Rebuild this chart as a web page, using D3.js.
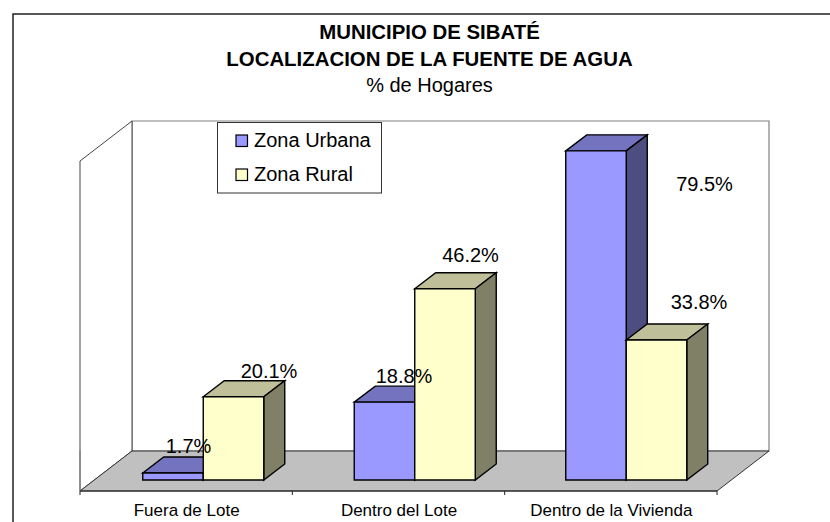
<!DOCTYPE html>
<html><head><meta charset="utf-8">
<style>html,body{margin:0;padding:0;background:#fff;overflow:hidden}svg{display:block}text{font-family:"Liberation Sans",Arial,sans-serif;fill:#000}</style>
<script src="https://cdn.jsdelivr.net/npm/d3@7/dist/d3.min.js"></script>
</head><body><svg id="c" width="830" height="522"></svg>
<script>
const categories = ["Fuera de Lote","Dentro del Lote","Dentro de la Vivienda"];
const seriesNames = ["Zona Urbana","Zona Rural"];
const urbana = [1.7,18.8,79.5];
const rural = [20.1,46.2,33.8];
const titleLines = ["MUNICIPIO DE SIBATÉ","LOCALIZACION DE LA FUENTE DE AGUA"];
const subtitle = "% de Hogares";
const faceColors = ["#9999ff","#ffffcc"];
const topColors = ["#7373bf","#bfbf99"];
const sideColors = ["#4d4d80","#808066"];
const labelOffsets = [[[5,-20],[25,-19]],[[9,-19],[15,-27]],[[98,40],[32,-31]]];

const svg = d3.select("#c");
const X0=80,X1=717,FY=491,DX=52,DY=40,WALLTOP=121,BASE=480,BW=60.5,BDX=21,BDY=16;
const x = d3.scaleBand().domain(categories).range([X0,X1]);
const xBars = d3.scaleBand().domain(categories).range([X0,714.5]);
const y = d3.scaleLinear().domain([0,100]).range([BASE,BASE-414]);
const line = d3.line();
const poly=(pts,fill,stroke,w)=>svg.append("path").attr("d",line(pts)+"Z").attr("fill",fill).attr("stroke",stroke).attr("stroke-width",w).attr("stroke-linejoin","miter");

svg.append("rect").attr("x",13).attr("y",14).attr("width",840).attr("height",540).attr("fill","#fff").attr("stroke","#222").attr("stroke-width",1.5);

// walls and floor
poly([[X0+DX,FY-DY],[X0+DX,WALLTOP],[X1+DX,WALLTOP],[X1+DX,FY-DY]],"#fff","#808080",1.2);
poly([[X0,FY],[X0,WALLTOP+DY],[X0+DX,WALLTOP],[X0+DX,FY-DY]],"#fff","#444",1);
poly([[X0,FY],[X0+DX,FY-DY],[X1+DX,FY-DY],[X1,FY]],"#c0c0c0","#333",1);
svg.append("line").attr("x1",X0).attr("x2",X0).attr("y1",FY-DY).attr("y2",FY).attr("stroke","#808080").attr("stroke-width",1.2);
svg.append("line").attr("x1",X0).attr("x2",X1).attr("y1",FY).attr("y2",FY).attr("stroke","#222").attr("stroke-width",1.2);
x.domain().concat(null).forEach(c=>{
  const p = c===null ? X1 : x(c);
  svg.append("line").attr("x1",p).attr("x2",p).attr("y1",FY).attr("y2",FY+4).attr("stroke","#222");
});
categories.forEach(c=>svg.append("text").attr("x",x(c)+x.bandwidth()/2+0.5).attr("y",FY+25).attr("text-anchor","middle").attr("font-size",17).text(c));

// bars
const series=[urbana,rural];
const groupCentre=c=>xBars(c)+xBars.bandwidth()/2+17.5;
categories.forEach((c,i)=>{
  const cx=groupCentre(c);
  series.forEach((s,k)=>{
    const l=cx+(k-1)*BW, r=l+BW, t=y(s[i]), b=y(0);
    poly([[l,t],[l+BDX,t-BDY],[r+BDX,t-BDY],[r,t]],topColors[k],"#000",1.4);
    poly([[r,t],[r+BDX,t-BDY],[r+BDX,b-BDY],[r,b]],sideColors[k],"#000",1.4);
    poly([[l,t],[r,t],[r,b],[l,b]],faceColors[k],"#000",1.4);
  });
});
// value labels
categories.forEach((c,i)=>{
  const cx=groupCentre(c);
  series.forEach((s,k)=>{
    const o=labelOffsets[i][k];
    svg.append("text").attr("x",cx+(k-1)*BW+BW/2+BDX/2+o[0]).attr("y",y(s[i])+o[1]).attr("text-anchor","middle").attr("font-size",20).attr("fill","#111").text(s[i].toFixed(1)+"%");
  });
});
// legend
svg.append("rect").attr("x",217.5).attr("y",122.5).attr("width",164).attr("height",70.5).attr("fill","#fff").attr("stroke","#333").attr("stroke-width",1);
seriesNames.forEach((n,k)=>{
  const ly=141+k*34;
  svg.append("rect").attr("x",236).attr("y",ly-6).attr("width",11.5).attr("height",11.5).attr("fill",faceColors[k]).attr("stroke","#000").attr("stroke-width",1.2);
  svg.append("text").attr("x",254).attr("y",ly+5.5).attr("font-size",20).text(n);
});
// titles
titleLines.forEach((t,i)=>svg.append("text").attr("x",429.5).attr("y",39+i*26.5).attr("text-anchor","middle").attr("font-size",20.4).attr("font-weight","bold").text(t));
svg.append("text").attr("x",429.5).attr("y",92).attr("text-anchor","middle").attr("font-size",20).text(subtitle);
</script></body></html>
